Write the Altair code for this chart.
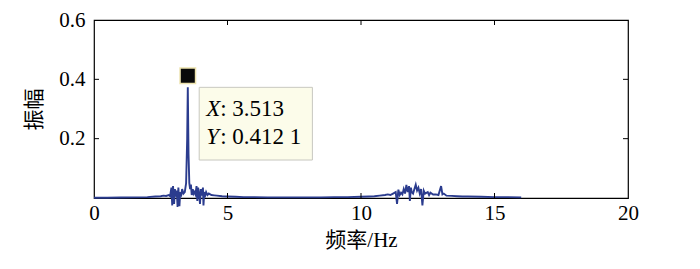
import altair as alt
import pandas as pd

# spectrum values
freq = [0.0, 0.5, 1.0, 1.5, 2.0, 2.3, 2.5, 2.6, 2.7, 2.8, 2.85, 2.9, 2.93, 2.96, 3.0, 3.03, 3.07,
        3.1, 3.13, 3.16, 3.2, 3.23, 3.27, 3.3, 3.35, 3.4, 3.45, 3.49, 3.513, 3.54, 3.57, 3.6,
        3.63, 3.66, 3.7, 3.73, 3.76, 3.8, 3.84, 3.87, 3.9, 3.94, 3.97, 4.0, 4.04, 4.08, 4.1,
        4.13, 4.17, 4.2, 4.25, 4.3, 4.4, 4.5, 4.6, 4.8, 5.0, 5.3, 5.6, 6.0, 6.5, 7.0, 7.5,
        8.0, 8.5, 9.0, 9.5, 10.0, 10.3, 10.5, 10.7, 10.9, 11.0, 11.1, 11.2, 11.3, 11.35, 11.4,
        11.45, 11.5, 11.55, 11.6, 11.65, 11.7, 11.75, 11.8, 11.83, 11.87, 11.9, 11.95, 12.0,
        12.05, 12.1, 12.15, 12.2, 12.25, 12.3, 12.35, 12.4, 12.5, 12.55, 12.6, 12.7, 12.8,
        12.9, 13.0, 13.05, 13.1, 13.2, 13.4, 13.6, 13.8, 14.0, 14.5, 15.0, 15.5, 16.0]
amp = [0.001, 0.001, 0.0015, 0.002, 0.003, 0.005, 0.006, 0.008, 0.007, 0.010, 0.006, 0.035,
       -0.025, 0.040, -0.02, 0.030, 0.005, 0.025, -0.03, 0.035, -0.028, 0.02, 0.012, 0.03,
       0.015, 0.02, 0.05, 0.2, 0.373, 0.15, 0.05, 0.03, 0.045, 0.01, 0.03, 0.015, 0.02, 0.012,
       0.04, -0.01, 0.035, 0.01, -0.02, 0.03, 0.008, 0.035, -0.025, 0.02, 0.01, 0.02, 0.01,
       0.015, 0.01, 0.009, 0.008, 0.006, 0.005, 0.004, 0.003, 0.003, 0.002, 0.002, 0.002,
       0.002, 0.002, 0.003, 0.003, 0.004, 0.005, 0.006, 0.008, 0.01, 0.012, 0.01, 0.015, 0.02,
       -0.02, 0.028, 0.01, 0.018, 0.012, 0.03, 0.015, 0.044, 0.02, 0.04, -0.01, 0.035, 0.02,
       0.015, 0.03, 0.045, 0.025, 0.035, 0.015, 0.03, -0.025, 0.025, 0.015, 0.02, 0.01, 0.018,
       0.012, 0.012, 0.01, 0.04, 0.012, 0.015, 0.008, 0.007, 0.006, 0.005, 0.005, 0.004,
       0.003, 0.003, 0.002]

# data tip
tip_x = [3.513]
tip_y = [0.4121]
tip_box_x = [3.94, 8.18]
tip_box_y = [0.128, 0.373]
tip_lines = [("X", ": 3.513", 0.2756), ("Y", ": 0.412 1", 0.1815)]
tip_text_x = 4.2

x_ticks = [0, 5, 10, 15, 20]
y_ticks = [0.2, 0.4, 0.6]

NUM = "Times New Roman"
CJK = "Times New Roman, Noto Sans CJK SC"
W, H = 534, 178

df = pd.DataFrame({"f": freq, "a": amp})

xs = alt.Scale(domain=[0, 20], nice=False)
ys = alt.Scale(domain=[0, 0.6], nice=False)

line = alt.Chart(df).mark_line(color="#2B3C8E", strokeWidth=1.9, clip=False).encode(
    x=alt.X("f:Q", scale=xs, title="频率/Hz",
            axis=alt.Axis(values=x_ticks, ticks=False, domain=False, grid=False,
                          labelFont=NUM, labelFontSize=21, labelColor="black",
                          labelPadding=4, labelFlush=False,
                          titleFont=CJK, titleFontSize=21, titleFontWeight="normal",
                          titleColor="black", titlePadding=6)),
    y=alt.Y("a:Q", scale=ys, title="振幅",
            axis=alt.Axis(values=y_ticks, ticks=False, domain=False, grid=False,
                          labelFont=NUM, labelFontSize=21, labelColor="black",
                          labelPadding=9, labelFlush=False,
                          titleFont=CJK, titleFontSize=21, titleFontWeight="normal",
                          titleColor="black", titlePadding=14)),
)

# inward ticks (MATLAB-style box)
bt = pd.DataFrame({"v": [5, 10, 15]})
lt = pd.DataFrame({"v": [0.2, 0.4]})
tick_style = dict(color="black", strokeWidth=1)
bottom_t = alt.Chart(bt).mark_rule(**tick_style).encode(
    x=alt.X("v:Q", scale=xs), y=alt.value(H), y2=alt.value(H - 5))
top_t = alt.Chart(bt).mark_rule(**tick_style).encode(
    x=alt.X("v:Q", scale=xs), y=alt.value(0), y2=alt.value(5))
left_t = alt.Chart(lt).mark_rule(**tick_style).encode(
    y=alt.Y("v:Q", scale=ys), x=alt.value(0), x2=alt.value(5))
right_t = alt.Chart(lt).mark_rule(**tick_style).encode(
    y=alt.Y("v:Q", scale=ys), x=alt.value(W), x2=alt.value(W - 5))

box_df = pd.DataFrame({"x": [tip_box_x[0]], "x2": [tip_box_x[1]],
                       "y": [tip_box_y[0]], "y2": [tip_box_y[1]]})
box = alt.Chart(box_df).mark_rect(fill="#FCFCEA", stroke="#C8C8C0", strokeWidth=1).encode(
    x=alt.X("x:Q", scale=xs), x2="x2:Q", y=alt.Y("y:Q", scale=ys), y2="y2:Q")

marker = alt.Chart(pd.DataFrame({"x": tip_x, "y": tip_y})).mark_point(
    shape="square", size=240, filled=True, fill="#0A0A0A", stroke="#EDE3AE",
    strokeWidth=1.5, opacity=1).encode(
    x=alt.X("x:Q", scale=xs), y=alt.Y("y:Q", scale=ys))

tdf = pd.DataFrame({"x": [tip_text_x] * len(tip_lines),
                    "var": [t[0] for t in tip_lines],
                    "rest": [t[1] for t in tip_lines],
                    "y": [t[2] for t in tip_lines]})
t_var = alt.Chart(tdf).mark_text(font=NUM, fontSize=23, fontStyle="italic", align="left",
                                 baseline="alphabetic", color="black").encode(
    x=alt.X("x:Q", scale=xs), y=alt.Y("y:Q", scale=ys), text="var:N")
t_rest = alt.Chart(tdf).mark_text(font=NUM, fontSize=23, align="left", dx=14,
                                  baseline="alphabetic", color="black").encode(
    x=alt.X("x:Q", scale=xs), y=alt.Y("y:Q", scale=ys), text="rest:N")

chart = alt.layer(line, bottom_t, top_t, left_t, right_t, box, marker, t_var, t_rest).properties(
    width=W, height=H,
    autosize=alt.AutoSizeParams(type="none"),
    padding={"left": 94, "top": 20, "right": 72, "bottom": 71},
    background="white",
).configure_view(stroke="black", strokeWidth=1.2)

chart.save("out.html", embed_options={"renderer": "svg", "actions": False})
